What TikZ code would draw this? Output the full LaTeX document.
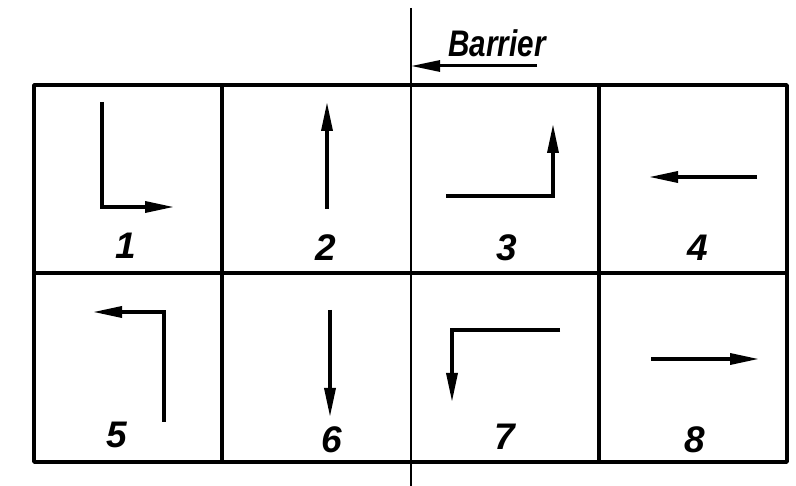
\documentclass[tikz,border=0pt]{standalone}
\usepackage{fontspec}
\newfontfamily\cadfont{Liberation Sans}
\newfontfamily\cadnarrow{Liberation Sans}[FakeStretch=0.8]
\usepackage{tikz}
\usetikzlibrary{arrows.meta,positioning}

\begin{document}
\begin{tikzpicture}[x=1pt,y=-1pt,
    gridline/.style={line width=3.6pt,line cap=round,line join=round},
    dirarrow/.style={line width=3.4pt,line join=miter,-{Triangle[length=29pt,width=11pt]}},
    celllabel/.style={inner sep=0pt,font=\cadfont\bfseries\itshape\fontsize{37}{40}\selectfont},
    barlabel/.style={inner sep=0pt,font=\cadnarrow\bfseries\itshape\fontsize{37}{40}\selectfont}]
    \useasboundingbox (0,0) rectangle (796,486);
    % grid of eight cells
    \draw[gridline] (34,85) rectangle (787,462);
    \draw[gridline] (34,273) -- (787,273);
    \foreach \x in {222,599}{
       \draw[gridline] (\x,85) -- (\x,462);}
    % barrier
    \coordinate (bartop) at (411,8);
    \coordinate (barbot) at (411,486);
    \draw[line width=2.8pt] (bartop) -- (barbot);
    \coordinate (barfrom) at (537,66);
    \coordinate (barto) at (411,66);
    \draw[dirarrow,line width=3pt] (barfrom) -- (barto);
    \node[barlabel] (barlbl) at (497,43) {Barrier};
    % cell 1
    \node[celllabel] (n1) at (126,246) {1};
    \draw[dirarrow] (102,102) -- (102,207) -- (174,207);
    % cell 2
    \node[celllabel] (n2) at (326,248) {2};
    \draw[dirarrow] (327,209) -- (327,102);
    % cell 3
    \node[celllabel] (n3) at (507,248) {3};
    \draw[dirarrow] (446,196) -- (553,196) -- (553,124);
    % cell 4
    \node[celllabel] (n4) at (698,248) {4};
    \draw[dirarrow] (757,177) -- (649,177);
    % cell 5
    \node[celllabel] (n5) at (117,435) {5};
    \draw[dirarrow] (164,422) -- (164,312) -- (93,312);
    % cell 6
    \node[celllabel] (n6) at (332,440) {6};
    \draw[dirarrow] (330,310) -- (330,417);
    % cell 7
    \node[celllabel] (n7) at (505,437) {7};
    \draw[dirarrow] (560,330) -- (452,330) -- (452,402);
    % cell 8
    \node[celllabel] (n8) at (695,440) {8};
    \draw[dirarrow] (651,359) -- (759,359);
\end{tikzpicture}
\end{document}
